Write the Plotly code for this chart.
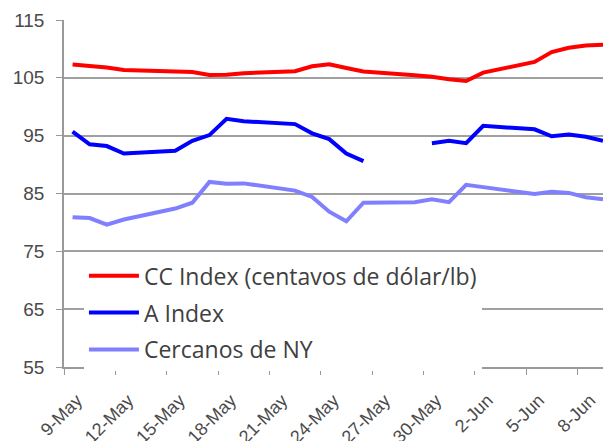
import plotly.graph_objects as go
from datetime import datetime, timedelta

dates = ["2017-05-09", "2017-05-10", "2017-05-11", "2017-05-12",
         "2017-05-15", "2017-05-16", "2017-05-17", "2017-05-18", "2017-05-19",
         "2017-05-22", "2017-05-23", "2017-05-24", "2017-05-25", "2017-05-26",
         "2017-05-29", "2017-05-30", "2017-05-31", "2017-06-01", "2017-06-02",
         "2017-06-05", "2017-06-06", "2017-06-07", "2017-06-08", "2017-06-09"]

cc_index = [107.3, 107.1, 106.8, 106.35,
            106.15, 106.0, 105.5, 105.55, 105.8,
            106.15, 107.0, 107.35, 106.7, 106.1,
            105.45, 105.2, 104.75, 104.45, 105.9,
            107.75, 109.45, 110.2, 110.6, 110.7]

a_index = [95.7, 93.5, 93.2, 91.9,
           92.4, 94.1, 95.1, 97.9, 97.5,
           97.0, 95.4, 94.4, 91.9, 90.6,
           None, 93.7, 94.1, 93.7, 96.7,
           96.1, 94.9, 95.2, 94.8, 94.1]

cercanos_ny = [80.9, 80.75, 79.6, 80.5,
               82.4, 83.4, 87.0, 86.7, 86.75,
               85.5, 84.4, 81.85, 80.2, 83.4,
               83.5, 84.0, 83.5, 86.5, 86.1,
               84.9, 85.3, 85.1, 84.35, 84.0]

tick_dates = ["2017-05-09", "2017-05-12", "2017-05-15", "2017-05-18", "2017-05-21",
              "2017-05-24", "2017-05-27", "2017-05-30", "2017-06-02", "2017-06-05",
              "2017-06-08"]
tick_labels = ["9-May", "12-May", "15-May", "18-May", "21-May", "24-May",
               "27-May", "30-May", "2-Jun", "5-Jun", "8-Jun"]

y_ticks = [55, 65, 75, 85, 95, 105, 115]

# Excel date axis: points sit in the middle of each day band, ticks at band edges
half = timedelta(hours=12)
fmt = "%Y-%m-%d %H:%M"
tick_pos = [(datetime.strptime(d, "%Y-%m-%d") - half).strftime(fmt) for d in tick_dates]
x_start = (datetime.strptime(dates[0], "%Y-%m-%d") - half).strftime(fmt)
x_end = datetime.strptime(dates[-1], "%Y-%m-%d").strftime(fmt)

fig = go.Figure()
fig.add_trace(go.Scatter(x=dates, y=cc_index, mode="lines",
                         name="CC Index (centavos de dólar/lb)", legendgroup="a",
                         line=dict(color="#FF0000", width=4)))
fig.add_trace(go.Scatter(x=dates, y=a_index, mode="lines", name="A Index",
                         legendgroup="b",
                         line=dict(color="#0000FF", width=4)))
fig.add_trace(go.Scatter(x=dates, y=cercanos_ny, mode="lines", name="Cercanos de NY",
                         legendgroup="c",
                         line=dict(color="#8080FF", width=4)))

fig.update_layout(
    width=603, height=441,
    margin=dict(l=64, r=0, t=20, b=74, autoexpand=False),
    paper_bgcolor="white", plot_bgcolor="white",
    showlegend=True,
    legend=dict(x=0.037, y=0.325, xanchor="left", yanchor="top",
                bgcolor="white", font=dict(family="Open Sans", size=23, color="#404040"),
                traceorder="grouped", tracegroupgap=4, itemwidth=50),
    font=dict(family="Liberation Sans", color="#4a4a4a"),
)
fig.update_xaxes(type="date", range=[x_start, x_end], automargin=False,
                 tickvals=tick_pos, ticktext=tick_labels, tickangle=-45,
                 tickfont=dict(family="Liberation Sans", size=18, color="#4a4a4a"),
                 ticklabelshift=13, ticklabelstandoff=8,
                 showgrid=False, showline=True, linecolor="#999999", linewidth=1.5,
                 ticks="outside", ticklen=6, tickcolor="#999999", zeroline=False)
fig.update_yaxes(range=[55, 115], tickvals=y_ticks, automargin=False,
                 tickfont=dict(family="Liberation Sans", size=19, color="#4a4a4a"),
                 ticklabelstandoff=8,
                 showgrid=True, gridcolor="#A0A0A0", gridwidth=1.5,
                 showline=True, linecolor="#999999", linewidth=1.5,
                 ticks="outside", ticklen=6, tickcolor="#999999", zeroline=False)

fig.write_html("out.html", config={"displayModeBar": False},
               post_script="document.body.style.margin='0';document.body.style.overflow='hidden';")
